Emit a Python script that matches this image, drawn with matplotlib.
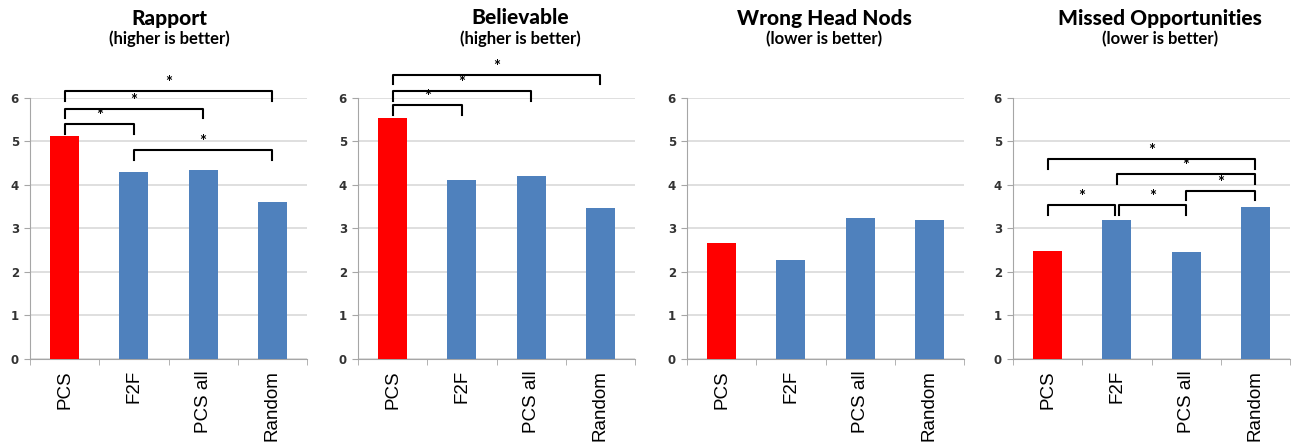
import numpy as np
import matplotlib.pyplot as plt

RED, BLUE, GRID, AX = "#ff0000", "#4f81bd", "#d9d9d9", "#a6a6a6"
plt.rcParams.update({"font.family": ["Lato", "DejaVu Sans"]})

categories = ["PCS", "F2F", "PCS all", "Random"]
titles = ["Rapport", "Believable", "Wrong Head Nods", "Missed Opportunities"]
subtitles = ["(higher is better)", "(higher is better)", "(lower is better)", "(lower is better)"]

rapport = [5.13, 4.30, 4.33, 3.60]
believable = [5.53, 4.10, 4.20, 3.47]
head_nods = [2.67, 2.27, 3.23, 3.20]
missed = [2.47, 3.20, 2.45, 3.50]

# significance brackets: (from, to, height)
br_rapport = [(0, 1, 5.39), (0, 2, 5.75), (0, 3, 6.15), (1, 3, 4.79)]
br_believable = [(0, 1, 5.83), (0, 2, 6.15), (0, 3, 6.53)]
br_head_nods = []
br_missed = [(0, 1, 3.53), (1, 2, 3.53), (2, 3, 3.86), (1, 3, 4.24), (0, 3, 4.59)]

values = [rapport, believable, head_nods, missed]
brackets = [br_rapport, br_believable, br_head_nods, br_missed]

W, H = 1294, 444
fig = plt.figure(figsize=(W / 100, H / 100), dpi=100)
lefts = [30, 358, 687, 1013]
title_x = [169, 520, 824, 1160]
pw = 277
y0, y6 = 359, 97.7

for k in range(4):
    ax = fig.add_axes([lefts[k] / W, (H - y0) / H, pw / W, (y0 - y6) / H])
    x = np.arange(len(categories))
    cols = [RED] + [BLUE] * (len(categories) - 1)
    ax.bar(x, values[k], 0.42, color=cols, zorder=3)
    ax.set_xlim(-0.5, 3.5); ax.set_ylim(0, 6)
    ax.set_yticks(range(7))
    ax.set_yticklabels([str(v) for v in range(7)], fontsize=8.5, fontweight="bold",
                       family=["DejaVu Sans"], color="#333333")
    ax.set_xticks(x)
    ax.set_xticklabels(categories, rotation=90, fontsize=13.5, family=["Liberation Sans"])
    ax.tick_params(axis="x", length=0, pad=8)
    ax.set_xticks([-0.5, 0.5, 1.5, 2.5, 3.5], minor=True)
    ax.tick_params(axis="x", which="minor", length=4, color=AX, direction="out")
    ax.tick_params(axis="y", length=4, color=AX, pad=4)
    ax.grid(axis="y", color=GRID, lw=1.2, zorder=0)
    for s in ["top", "right"]:
        ax.spines[s].set_visible(False)
    for s in ["left", "bottom"]:
        ax.spines[s].set_color(AX)
    for (i, j, h) in brackets[k]:
        a = i + (0.03 if k == 3 and i == 1 and j == 2 else 0)
        b = j - (0.03 if k == 3 and i == 0 and j == 1 else 0)
        ax.plot([a, a, b, b], [h - 0.22, h, h, h - 0.22], color="black", lw=1.5,
                clip_on=False, zorder=4)
        ax.text((a + b) / 2, h + 0.0, "*", ha="center", va="bottom", fontsize=12,
                fontweight="bold", clip_on=False)
    fig.text(title_x[k] / W, 1 - 18 / H, titles[k], ha="center", va="center",
             fontsize=15, fontweight="black")
    fig.text(title_x[k] / W, 1 - 39 / H, subtitles[k], ha="center", va="center",
             fontsize=12, fontweight="bold")

fig.savefig("out.png", dpi=100, facecolor="white")
